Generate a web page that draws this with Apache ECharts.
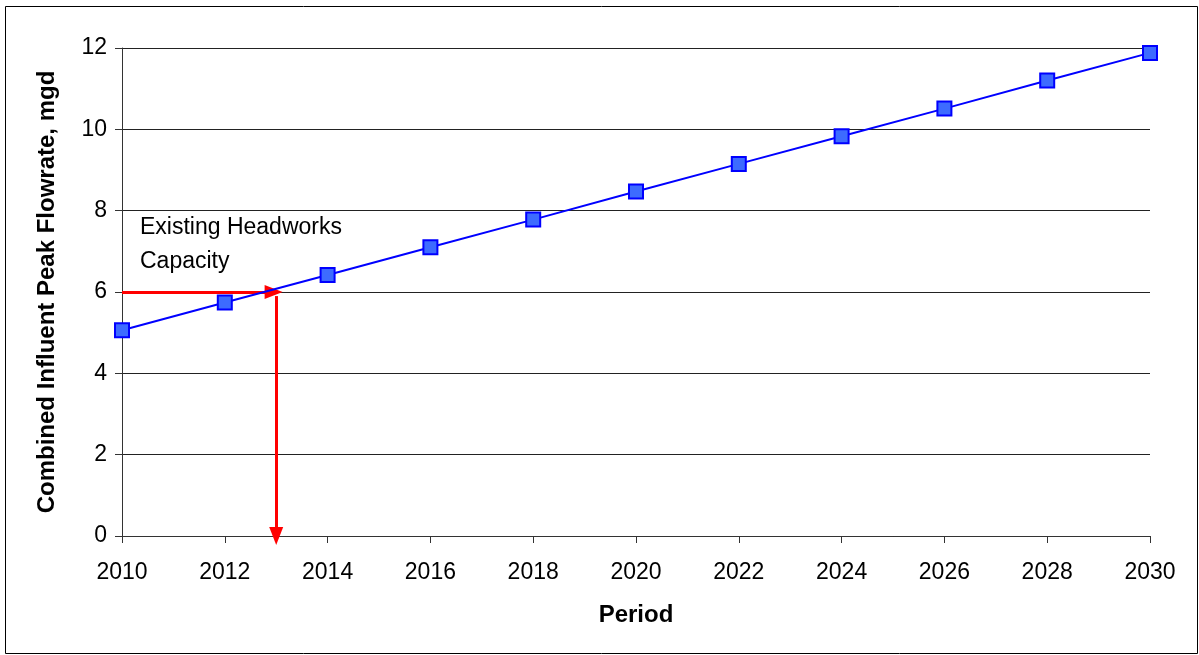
<!DOCTYPE html>
<html>
<head>
<meta charset="utf-8">
<script src="https://cdn.jsdelivr.net/npm/echarts@6/dist/echarts.min.js"></script>
<style>
  html, body { margin: 0; padding: 0; background: #fff; }
  #chart { width: 1199px; height: 655px; }
</style>
</head>
<body>
<div id="chart"></div>
<script>
// data
const years = [2010, 2012, 2014, 2016, 2018, 2020, 2022, 2024, 2026, 2028, 2030];
const flows = [5.06, 5.74, 6.42, 7.1, 7.78, 8.47, 9.15, 9.83, 10.51, 11.2, 11.88];
const capacity = 6;
const capacityYear = 2013;
const annotation = 'Existing Headworks\nCapacity';

const chart = echarts.init(document.getElementById('chart'));
const font = 'Arial, "Liberation Sans", sans-serif';

const option = {
    backgroundColor: '#fff',
    animation: false,
    grid: { left: 122, right: 49, top: 48, bottom: 119 },
    graphic: [
        {
            type: 'rect',
            shape: { x: 5.5, y: 6.5, width: 1192, height: 647 },
            style: { fill: 'none', stroke: '#000', lineWidth: 1 },
            silent: true
        }
    ],
    xAxis: {
        type: 'value',
        min: 2010,
        max: 2030,
        interval: 2,
        name: 'Period',
        nameLocation: 'middle',
        nameGap: 67,
        nameTextStyle: { fontFamily: font, fontSize: 24, fontWeight: 'bold', color: '#000' },
        axisLine: { show: true, lineStyle: { color: '#333', width: 1 } },
        axisTick: { show: true, inside: false, length: 7, lineStyle: { color: '#333' } },
        axisLabel: {
            margin: 25, fontFamily: font, fontSize: 23, color: '#000',
            formatter: v => String(v)
        },
        splitLine: { show: false }
    },
    yAxis: {
        type: 'value',
        min: 0,
        max: 12,
        interval: 2,
        name: 'Combined Influent Peak Flowrate, mgd',
        nameLocation: 'middle',
        nameGap: 63,
        nameTextStyle: { fontFamily: font, fontSize: 24, fontWeight: 'bold', color: '#000' },
        axisLine: { show: true, lineStyle: { color: '#333', width: 1 } },
        axisTick: { show: true, inside: false, length: 7, lineStyle: { color: '#333' } },
        axisLabel: { margin: 15, fontFamily: font, fontSize: 23, color: '#000' },
        splitLine: { show: true, lineStyle: { color: '#222', width: 1 } }
    },
    series: [
        {
            type: 'line',
            data: years.map((y, i) => [y, flows[i]]),
            symbol: 'rect',
            symbolSize: 14,
            lineStyle: { color: '#0000ff', width: 2 },
            itemStyle: { color: '#3d6bff', borderColor: '#0000ff', borderWidth: 2 },
            z: 5,
            markLine: {
                silent: true,
                symbol: ['none', 'triangle'],
                symbolSize: [14, 18],
                label: { show: false },
                lineStyle: { color: '#ff0000', width: 3, type: 'solid' },
                data: [
                    [{ coord: [2010, capacity] }, { coord: [capacityYear - 0.05, capacity] }],
                    [{ coord: [capacityYear, capacity - 0.1] }, { coord: [capacityYear, 0] }]
                ]
            },
            markPoint: {
                silent: true,
                symbol: 'circle',
                symbolSize: 0,
                label: {
                    show: true,
                    position: 'right',
                    distance: 0,
                    align: 'left',
                    verticalAlign: 'middle',
                    fontFamily: font,
                    fontSize: 23,
                    lineHeight: 34,
                    color: '#000',
                    formatter: annotation
                },
                data: [{ coord: [2010.35, 7.16] }]
            }
        }
    ]
};

chart.setOption(option);
</script>
</body>
</html>
